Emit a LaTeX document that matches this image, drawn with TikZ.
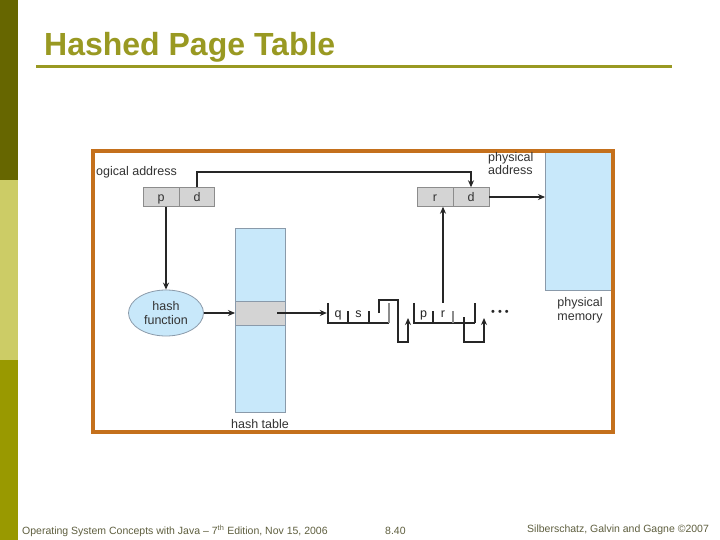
\documentclass[tikz,border=0pt]{standalone}
\usepackage{fontspec}
\setmainfont{Liberation Sans}
\usetikzlibrary{arrows.meta,shapes.geometric}
\definecolor{olivedark}{HTML}{666600}
\definecolor{olivelight}{HTML}{CCCC66}
\definecolor{olivemid}{HTML}{999900}
\definecolor{titlecol}{HTML}{999922}
\definecolor{framecol}{HTML}{C4701C}
\definecolor{lblue}{HTML}{C8E8FA}
\definecolor{bluedge}{HTML}{8A9AAA}
\definecolor{cellgray}{HTML}{D4D4D4}
\definecolor{celledge}{HTML}{8C8C8C}
\definecolor{footcol}{HTML}{5F5F3F}
\begin{document}
\begin{tikzpicture}[x=1pt,y=-1pt,
  lbl/.style={font=\fontsize{12.5}{14}\selectfont, text=black!80, inner sep=0pt},
  cell/.style={draw=celledge, fill=cellgray, minimum width=36pt, minimum height=19pt, inner sep=0pt, text height=10pt, text depth=1.5pt, font=\fontsize{12.5}{14}\selectfont, text=black!80},
  lcell/.style={minimum height=20pt, inner sep=0pt, text height=10pt, text depth=1.5pt, font=\fontsize{12.5}{14}\selectfont, text=black!85},
  arr/.style={draw=black!85, line width=1.5pt, -{Stealth[length=7pt,width=6pt]}},
  wire/.style={draw=black!85, line width=1.5pt},
  foot/.style={font=\fontsize{10.5}{12}\selectfont, text=footcol, inner sep=0pt, anchor=base west}]
\useasboundingbox (0,0) rectangle (720,540);
\fill[white] (0,0) rectangle (720,540);
% side bar
\fill[olivedark] (0,0) rectangle (18,180);
\fill[olivelight] (0,180) rectangle (18,360);
\fill[olivemid] (0,360) rectangle (18,540);
% title
\node[anchor=base west, inner sep=0pt, text=titlecol, font=\bfseries\fontsize{32}{32}\selectfont] (title) at (44,56) {Hashed Page Table};
\draw[titlecol, line width=3pt] (36,67) -- (672,67);
% physical memory
\node[fill=lblue, draw=bluedge, minimum width=67pt, minimum height=138pt, inner sep=0pt, anchor=north west] (pm) at (545,152) {};
% frame
\draw[framecol, line width=4pt] (93,151) rectangle (613,432);
% labels
\node[lbl, anchor=base west] (la) at (96,176) {ogical address};
\node[lbl, anchor=base west] (pa1) at (488,162) {physical};
\node[lbl, anchor=base west] (pa2) at (488,175) {address};
\node[lbl, anchor=base] (pm1) at (580,306) {physical};
\node[lbl, anchor=base] (pm2) at (580,320) {memory};
% logical address
\node[cell] (lp) at (161,197) {p};
\node[cell, minimum width=35pt] (ld) at (197,197) {d};
% physical address
\node[cell] (pr) at (435,197) {r};
\node[cell] (pd) at (471,197) {d};
% hash function
\node[ellipse, fill=lblue, draw=bluedge, line width=0.8pt, minimum width=75pt, minimum height=46pt, inner sep=0pt, align=center, font=\fontsize{12.5}{14}\selectfont, text=black!80] (hf) at (166,313) {hash\\function};
% hash table
\node[fill=lblue, draw=bluedge, minimum width=50pt, minimum height=184pt, inner sep=0pt, anchor=north west] (ht) at (235,228) {};
\node[fill=cellgray, draw=bluedge, minimum width=50pt, minimum height=24pt, inner sep=0pt] (hrow) at (260,313) {};
\node[lbl, anchor=base] (htl) at (260,428) {hash table};
% list node 1
\node[lcell, minimum width=20pt] (q) at (338,313) {q};
\node[lcell, minimum width=21pt] (s) at (358.5,313) {s};
\node[lcell, minimum width=20pt] (n1) at (379,313) {};
% list node 2
\node[lcell, minimum width=19pt] (p2) at (423.5,313) {p};
\node[lcell, minimum width=20pt] (r2) at (443,313) {r};
\node[lcell, minimum width=22pt] (n2) at (464,313) {};
\node[font=\fontsize{11}{11}\selectfont, inner sep=0pt, text=black!85] (dots) at (500,313) {• • •};
% list node outlines
\draw[wire] (q.north west) -- (q.south west) -- (n1.south east);
\draw[wire] (q.south east) -- ++(0,-12);
\draw[wire] (s.south east) -- ++(0,-12);
\draw[wire, draw=black!45] (n1.south east) -- (n1.north east);
\draw[wire] (p2.north west) -- (p2.south west) -- (n2.south east);
\draw[wire] (p2.south east) -- ++(0,-12);
\draw[wire, draw=black!45] (r2.south east) -- ++(0,-12);
\draw[wire] (n2.south east) -- (n2.north east);
% connectors
\draw[arr] (ld.north) -- ++(0,-15.5) -| (pd.north);
\draw[arr] (pd.east) -- (pd.east -| pm.west);
\draw[arr] (lp.south -| hf.north) -- (hf.north);
\draw[arr] (hf.east) -- (hf.east -| ht.west);
\draw[arr, shorten >=1pt] ([xshift=-8pt]hrow.east) -- (q.west);
\draw[arr] (r2.north) -- (r2.north |- pr.south);
\draw[arr] (n1.center) -- (n1.center |- 0,300) -- (398,300) -- (398,342) -- (408,342) -- (408,318);
\draw[arr] ([yshift=-4pt]n2.center) |- (484,342) -- (484,318);
% footer
\node[foot] (f1) at (22,534) {Operating System Concepts with Java – 7\textsuperscript{th} Edition, Nov 15, 2006};
\node[foot] (f2) at (385,534) {8.40};
\node[foot] (f3) at (527,532) {Silberschatz, Galvin and Gagne ©2007};
\end{tikzpicture}
\end{document}
